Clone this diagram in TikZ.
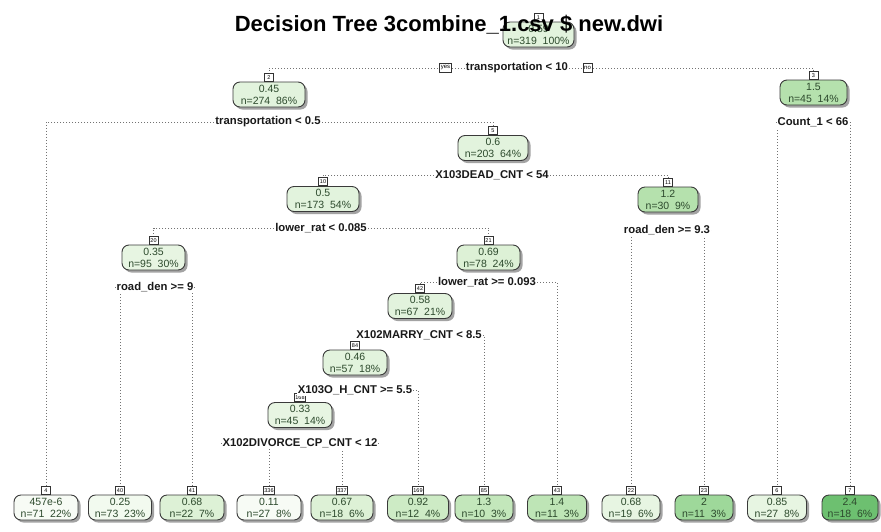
\documentclass[tikz,border=0pt]{standalone}
\usepackage{fontspec}
\setmainfont{Liberation Sans}
\usetikzlibrary{shadows,backgrounds}

% box outline, text and the green scale used for the node fills
\definecolor{boxline}{HTML}{3A3A3A}
\definecolor{nodetext}{HTML}{2D4A2D}
\definecolor{gA}{HTML}{F7FBF5}
\definecolor{gB}{HTML}{F2FAEF}
\definecolor{gC}{HTML}{E7F5E2}
\definecolor{gD}{HTML}{E2F3DD}
\definecolor{gE}{HTML}{DDF1D6}
\definecolor{gF}{HTML}{CDEBC5}
\definecolor{gG}{HTML}{C3E7BB}
\definecolor{gH}{HTML}{BEE5B6}
\definecolor{gI}{HTML}{B5E1AD}
\definecolor{gJ}{HTML}{9ED89A}
\definecolor{gK}{HTML}{6DC070}

% tree node: name, x, y, fill, width, text, node number
\newcommand\treenode[7]{%
  \node[treebox, fill=#4, minimum width=#5pt] (#1) at (#2,#3) {#6};
  \node[tagbox] (t#1) at (#1.north) {#7};
}

\begin{document}
\begin{tikzpicture}[x=1pt,y=-1pt,
  treebox/.style={draw=boxline, line width=0.9pt, rounded corners=7pt,
    align=center, text=nodetext, font=\fontsize{10.5}{12}\selectfont,
    inner sep=0pt, minimum height=25pt,
    drop shadow={shadow xshift=2.5pt, shadow yshift=-2.5pt, fill=black!45, opacity=0.8}},
  tagbox/.style={draw=black!80, fill=white, line width=0.6pt,
    font=\fontsize{5.5}{6}\selectfont, inner sep=1pt,
    minimum height=8pt, minimum width=9pt, anchor=south},
  splitlabel/.style={fill=white, inner sep=1pt,
    font=\bfseries\fontsize{11.3}{13}\selectfont, text=black!90},
  yesno/.style={draw=black!80, fill=white, line width=0.6pt,
    font=\fontsize{6}{7}\selectfont, inner sep=1.2pt, minimum height=8.5pt},
  conn/.style={draw=black!55, line width=0.9pt, dash pattern=on 0.9pt off 2.1pt}
]
\useasboundingbox (0,0) rectangle (881,531);

% internal nodes
\treenode{n1}{538.5}{34.5}{gD}{71}{0.59\\n=319\ \ 100\%}{1}
\treenode{n2}{269}{94.5}{gD}{72}{0.45\\n=274\ \ 86\%}{2}
\treenode{n3}{813.5}{92.5}{gI}{67}{1.5\\n=45\ \ 14\%}{3}
\treenode{n5}{493}{148}{gD}{70}{0.6\\n=203\ \ 64\%}{5}
\treenode{n10}{323}{199}{gD}{72}{0.5\\n=173\ \ 54\%}{10}
\treenode{n11}{668}{199.5}{gI}{60}{1.2\\n=30\ \ 9\%}{11}
\treenode{n20}{153.5}{257.5}{gC}{63}{0.35\\n=95\ \ 30\%}{20}
\treenode{n21}{488.5}{257.5}{gE}{63}{0.69\\n=78\ \ 24\%}{21}
\treenode{n42}{420}{306}{gD}{64}{0.58\\n=67\ \ 21\%}{42}
\treenode{n84}{355}{362.5}{gD}{64}{0.46\\n=57\ \ 18\%}{84}
\treenode{n168}{300}{415}{gC}{64}{0.33\\n=45\ \ 14\%}{168}

% leaves
\treenode{l4}{46}{507.5}{gA}{64}{457e-6\\n=71\ \ 22\%}{4}
\treenode{l40}{120}{507.5}{gB}{63}{0.25\\n=73\ \ 23\%}{40}
\treenode{l41}{192}{507.5}{gE}{64}{0.68\\n=22\ \ 7\%}{41}
\treenode{l336}{269}{507.5}{gA}{64}{0.11\\n=27\ \ 8\%}{336}
\treenode{l337}{342}{507.5}{gE}{62}{0.67\\n=18\ \ 6\%}{337}
\treenode{l169}{418}{507.5}{gF}{61}{0.92\\n=12\ \ 4\%}{169}
\treenode{l85}{484}{507.5}{gG}{58}{1.3\\n=10\ \ 3\%}{85}
\treenode{l43}{557}{507.5}{gH}{59}{1.4\\n=11\ \ 3\%}{43}
\treenode{l22}{631}{507.5}{gC}{58}{0.68\\n=19\ \ 6\%}{22}
\treenode{l23}{704}{507.5}{gJ}{58}{2\\n=11\ \ 3\%}{23}
\treenode{l6}{777}{507.5}{gC}{59}{0.85\\n=27\ \ 8\%}{6}
\treenode{l7}{850}{507.5}{gK}{56}{2.4\\n=18\ \ 6\%}{7}

% split labels
\node[splitlabel] (s1) at (517,68) {transportation < 10};
\node[yesno] (yes) at (445.5,68) {yes};
\node[yesno] (no) at (587.5,68) {no};
\node[splitlabel] (s2) at (268,122) {transportation < 0.5};
\node[splitlabel] (s3) at (813,122) {Count\_1 < 66};
\node[splitlabel] (s5) at (492,175) {X103DEAD\_CNT < 54};
\node[splitlabel] (s10) at (321,228) {lower\_rat < 0.085};
\node[splitlabel] (s11) at (667,230) {road\_den >= 9.3};
\node[splitlabel] (s20) at (155,287) {road\_den >= 9};
\node[splitlabel] (s21) at (487,282) {lower\_rat >= 0.093};
\node[splitlabel] (s42) at (419,335) {X102MARRY\_CNT < 8.5};
\node[splitlabel] (s84) at (355,390) {X103O\_H\_CNT >= 5.5};
\node[splitlabel] (s168) at (300,443) {X102DIVORCE\_CP\_CNT < 12};

% white page and dotted branches, behind labels and boxes
\begin{scope}[on background layer]
  \fill[white] (0,0) rectangle (881,531);
  \draw[conn] (s1) -| (tn2.north);
  \draw[conn] (s1) -| (tn3.north);
  \draw[conn] (s2) -| (tl4.north);
  \draw[conn] (s2) -| (tn5.north);
  \draw[conn] (s3) -| (tl6.north);
  \draw[conn] (s3) -| (tl7.north);
  \draw[conn] (s5) -| (tn10.north);
  \draw[conn] (s5) -| (tn11.north);
  \draw[conn] (s10) -| (tn20.north);
  \draw[conn] (s10) -| (tn21.north);
  \draw[conn] (s11) -| (tl22.north);
  \draw[conn] (s11) -| (tl23.north);
  \draw[conn] (s20) -| (tl40.north);
  \draw[conn] (s20) -| (tl41.north);
  \draw[conn] (s21) -| (tn42.north);
  \draw[conn] (s21) -| (tl43.north);
  \draw[conn] (s42) -| (tn84.north);
  \draw[conn] (s42) -| (tl85.north);
  \draw[conn] (s84) -| (tn168.north);
  \draw[conn] (s84) -| (tl169.north);
  \draw[conn] (s168) -| (tl336.north);
  \draw[conn] (s168) -| (tl337.north);
\end{scope}

% title, printed over the root box
\node[anchor=base, font=\bfseries\fontsize{22}{26}\selectfont] (title) at (449,31.5)
  {Decision Tree 3combine\_1.csv \$ new.dwi};
\end{tikzpicture}
\end{document}
